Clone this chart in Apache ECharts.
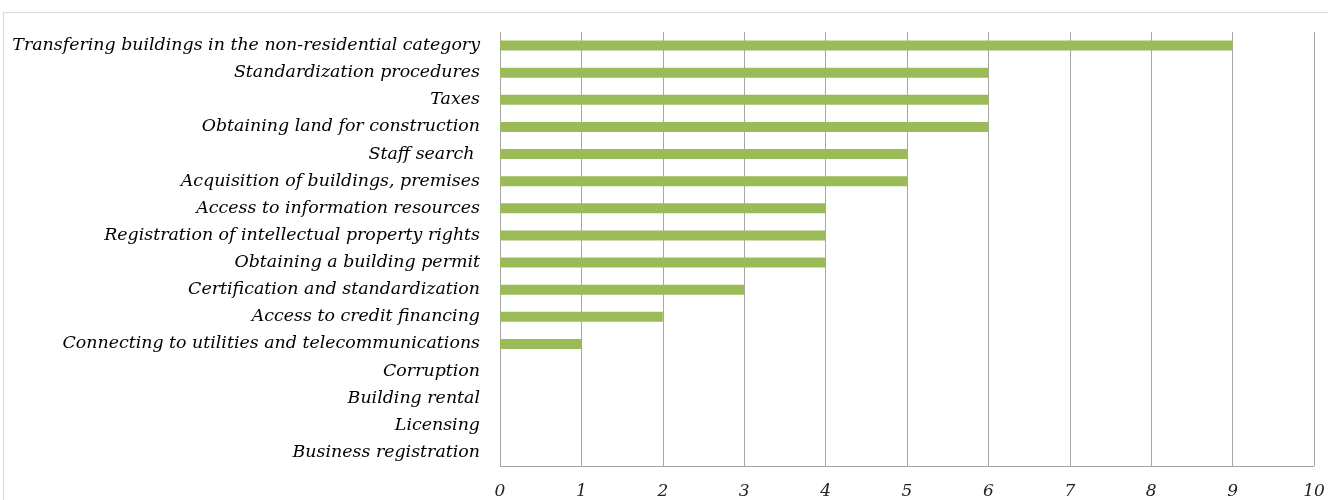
<!DOCTYPE html>
<html><head><meta charset="utf-8">
<script src="https://cdn.jsdelivr.net/npm/echarts@6/dist/echarts.min.js"></script>
<style>
html,body{margin:0;padding:0;background:#fff;overflow:hidden}
#frame{position:absolute;left:3px;top:12px;width:1400px;height:600px;border:1px solid #d9d9d9;box-sizing:border-box}
#c{position:absolute;left:0;top:0;width:1328px;height:500px}
</style></head>
<body>
<div id="frame"></div>
<div id="c"></div>
<script>
const categories = [
  "Transfering buildings in the non-residential category",
  "Standardization procedures",
  "Taxes",
  "Obtaining land for construction",
  "Staff search ",
  "Acquisition of buildings, premises",
  "Access to information resources",
  "Registration of intellectual property rights",
  "Obtaining a building permit",
  "Certification and standardization",
  "Access to credit financing",
  "Connecting to utilities and telecommunications",
  "Corruption",
  "Building rental",
  "Licensing",
  "Business registration"
];
const values = [9, 6, 6, 6, 5, 5, 4, 4, 4, 3, 2, 1, 0, 0, 0, 0];
const xTicks = { min: 0, max: 10, interval: 1 };

const font = "'DejaVu Serif', serif";
const chart = echarts.init(document.getElementById('c'), null, {renderer: 'canvas'});
chart.setOption({
  animation: false,
  grid: { left: 500, right: 14, top: 32, bottom: 34, containLabel: false },
  xAxis: {
    type: 'value', min: xTicks.min, max: xTicks.max, interval: xTicks.interval,
    axisLine: { show: true, lineStyle: { color: '#a6a6a6', width: 1 } },
    axisTick: { show: false },
    splitLine: { show: true, lineStyle: { color: '#a6a6a6', width: 1 } },
    axisLabel: { color: '#222', fontFamily: font, fontStyle: 'italic', fontSize: 17, margin: 17 }
  },
  yAxis: {
    type: 'category', data: categories, inverse: true,
    axisLine: { show: false }, axisTick: { show: false },
    axisLabel: { color: '#000', fontFamily: font, fontStyle: 'italic', fontSize: 17.4, margin: 20 }
  },
  series: [{
    type: 'bar', data: values, barWidth: 10,
    itemStyle: { color: '#9BBB59' }
  }]
});
</script>
</body></html>
